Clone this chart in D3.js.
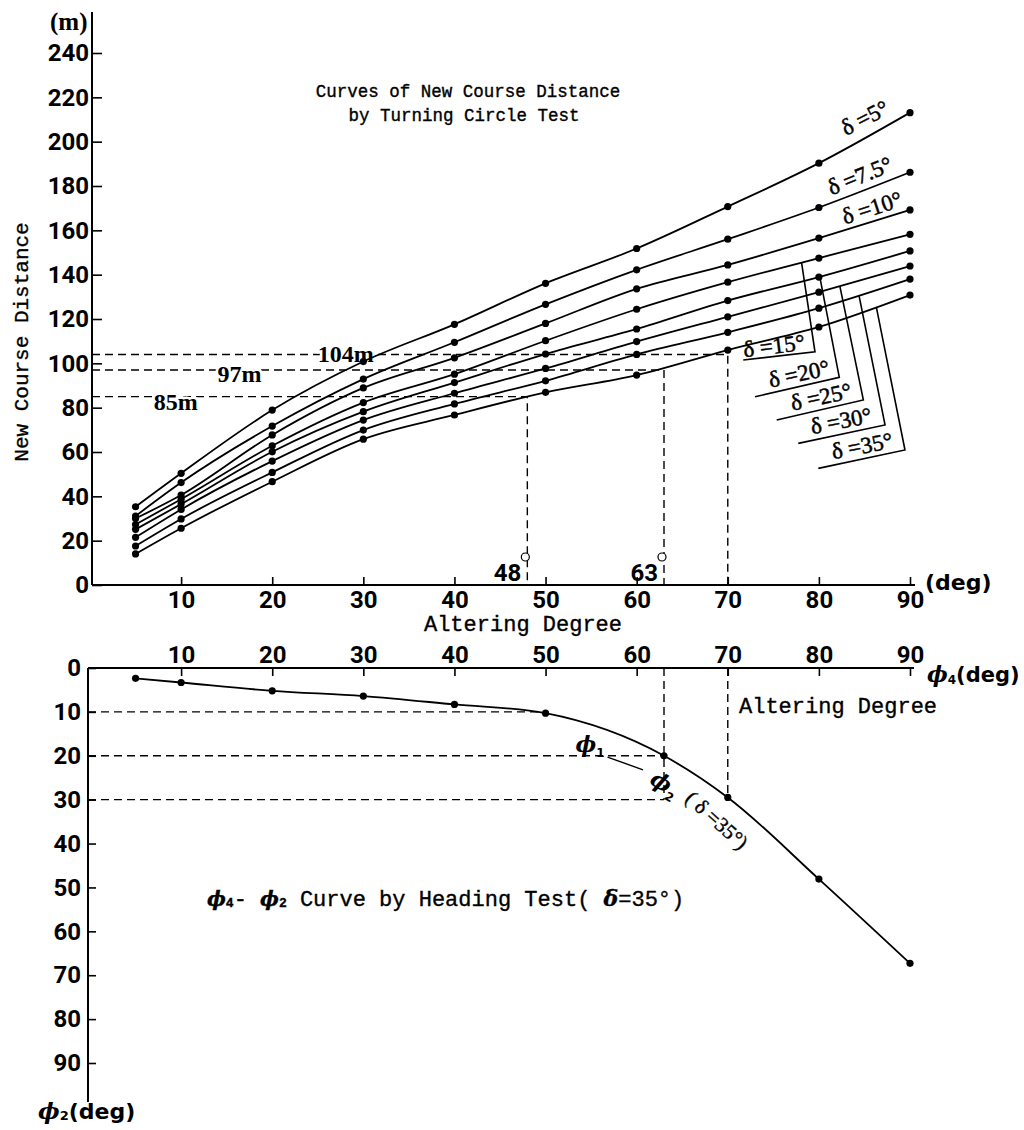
<!DOCTYPE html>
<html>
<head>
<meta charset="utf-8">
<script src="https://cdn.jsdelivr.net/npm/d3@7"></script>
<style>
body { margin: 0; background: #fff; }
svg text { fill: #000; }
.num { font-family: Roboto, "DejaVu Sans", sans-serif; font-weight: bold; font-size: 24px; }
.mono { font-family: "Liberation Mono", "DejaVu Sans Mono", monospace; stroke: #000; stroke-width: 0.35px; }
.ser { font-family: "Liberation Serif", "DejaVu Serif", serif; }
.grk { font-family: "DejaVu Serif", serif; font-weight: bold; font-style: italic; }
.bsans { font-family: "DejaVu Sans", sans-serif; font-weight: bold; }
</style>
</head>
<body>
<div id="chart"></div>
<script>
// altering degree where the turning circle points were read (deg)
var alterDeg = [5, 10, 20, 30, 40, 50, 60, 70, 80, 90];

// new course distance (m), one list per rudder angle
var d5   = [35.3, 50.4, 78.9, 100.8, 117.6, 136.1, 151.8, 170.7, 190.3, 213.1];
var d7_5 = [31.1, 46.2, 71.7, 92.9, 109.5, 126.6, 142.2, 156.0, 170.3, 186.2];
var d10  = [30.0, 40.6, 67.7, 88.9, 102.5, 118.0, 133.6, 144.4, 156.5, 169.2];
var d15  = [27.3, 38.7, 62.8, 82.3, 95.1, 110.2, 124.4, 136.6, 147.5, 158.2];
var d20  = [25.1, 36.5, 60.1, 78.2, 91.3, 104.2, 115.5, 128.3, 138.9, 150.7];
var d25  = [21.5, 34.1, 55.9, 74.4, 86.5, 97.7, 109.8, 121.0, 132.1, 143.9];
var d30  = [17.6, 29.8, 50.8, 69.9, 81.7, 92.1, 104.0, 114.0, 124.9, 138.0];
var d35  = [14.0, 25.6, 46.6, 65.8, 76.7, 86.9, 94.7, 106.0, 116.4, 130.8];
var rudder = ["δ =5°", "δ =7.5°", "δ =10°", "δ =15°", "δ =20°", "δ =25°", "δ =30°", "δ =35°"];

var distTicks = [0, 20, 40, 60, 80, 100, 120, 140, 160, 180, 200, 220, 240];
var degTicks = [10, 20, 30, 40, 50, 60, 70, 80, 90];

// heading test, delta = 35 deg
var phi4 = [5, 10, 20, 30, 40, 50, 63, 70, 80, 90];
var phi2 = [2.35, 3.3, 5.2, 6.4, 8.3, 10.3, 20.0, 29.5, 48.1, 67.3];
var phi2Ticks = [0, 10, 20, 30, 40, 50, 60, 70, 80, 90];

// read-off values (m -> deg)
var distRead = [104, 97, 85];
var degRead = [70, 63, 48];
var distReadText = ["104m", "97m", "85m"];

var series = [d5, d7_5, d10, d15, d20, d25, d30, d35];

var svg = d3.select("#chart").append("svg")
  .attr("width", 1024)
  .attr("height", 1130);

var x = d3.scaleLinear().domain([0, 90]).range([90, 910]);
var y = d3.scaleLinear().domain([0, 240]).range([585, 53]);
var y2 = d3.scaleLinear().domain([0, 90]).range([668, 1063]);

// ---------- upper chart ----------
var gx = svg.append("g").attr("transform", "translate(0,585)")
  .call(d3.axisBottom(x).tickValues(degTicks).tickSizeInner(-8).tickSizeOuter(0).tickPadding(6));
gx.select(".domain").remove();
gx.selectAll("line").attr("stroke-width", 1.6);
gx.selectAll("text").attr("class", "num");

var gy = svg.append("g").attr("transform", "translate(92,0)")
  .call(d3.axisLeft(y).tickValues(distTicks).tickSizeInner(-10).tickSizeOuter(0).tickPadding(3));
gy.select(".domain").remove();
gy.selectAll("line").attr("stroke-width", 1.6);
gy.selectAll("text").attr("class", "num");

svg.append("line").attr("x1", 92).attr("x2", 92).attr("y1", 12).attr("y2", y(0))
  .attr("stroke", "#000").attr("stroke-width", 2);
svg.append("line").attr("x1", 92).attr("x2", 915).attr("y1", y(0)).attr("y2", y(0))
  .attr("stroke", "#000").attr("stroke-width", 2);

svg.append("text").attr("class", "ser").attr("x", 50).attr("y", 30)
  .attr("font-size", 25).attr("font-weight", "bold").text("(m)");
svg.append("text").attr("class", "bsans").attr("x", 925).attr("y", 590)
  .attr("font-size", 22).text("(deg)");

svg.append("text").attr("class", "mono")
  .attr("transform", "translate(28,342) rotate(-90)")
  .attr("text-anchor", "middle").attr("font-size", 21).text("New Course Distance");

svg.append("text").attr("class", "mono").attr("x", 468).attr("y", 97)
  .attr("text-anchor", "middle").attr("font-size", 17.5).text("Curves of New Course Distance");
svg.append("text").attr("class", "mono").attr("x", 464).attr("y", 121)
  .attr("text-anchor", "middle").attr("font-size", 17.5).text("by Turning Circle Test");

svg.append("text").attr("class", "mono").attr("x", 523).attr("y", 631)
  .attr("text-anchor", "middle").attr("font-size", 22).text("Altering Degree");

// read-off dashed lines
var dash = "8,5";
distRead.forEach(function(m, i) {
  svg.append("path")
    .attr("d", "M" + 92 + "," + y(m) + "H" + x(degRead[i]) + "V" + y(0))
    .attr("fill", "none").attr("stroke", "#000").attr("stroke-width", 1.4)
    .attr("stroke-dasharray", dash);
});
var readPos = [[25, 104], [14, 95], [7, 82.5]];
distReadText.forEach(function(t, i) {
  svg.append("text").attr("class", "ser")
    .attr("x", x(readPos[i][0])).attr("y", y(readPos[i][1]))
    .attr("font-size", 24).attr("font-weight", "bold")
    .attr("dominant-baseline", "central")
    .attr("stroke", "#fff").attr("stroke-width", 5).attr("paint-order", "stroke")
    .text(t);
});
[48, 63].forEach(function(d) {
  svg.append("text").attr("class", "num").attr("font-size", 22)
    .attr("x", x(d) - 6).attr("y", 581).attr("text-anchor", "end").text(d);
  svg.append("circle").attr("cx", x(d) - 2).attr("cy", 557).attr("r", 4)
    .attr("fill", "#fff").attr("stroke", "#000").attr("stroke-width", 1.2);
});

var line = d3.line()
  .x(function(d) { return x(d[0]); })
  .y(function(d) { return y(d[1]); })
  .curve(d3.curveMonotoneX);

series.forEach(function(s) {
  var pts = alterDeg.map(function(a, i) { return [a, s[i]]; });
  svg.append("path").attr("d", line(pts))
    .attr("fill", "none").attr("stroke", "#000").attr("stroke-width", 1.8);
  svg.append("g").selectAll("circle").data(pts).enter().append("circle")
    .attr("cx", function(d) { return x(d[0]); })
    .attr("cy", function(d) { return y(d[1]); })
    .attr("r", 3.6).attr("fill", "#000");
});

// curve labels: [deg, m] of label centre, rotation
var labelPos = [
  [85.06, 210.7, -27], [84.5, 184.5, -22], [85.83, 170.1, -18],
  [75.07, 107.8, -7], [77.82, 95.2, -12], [80.24, 84.8, -12],
  [82.43, 74.0, -11], [84.74, 62.7, -11]
];
rudder.forEach(function(t, i) {
  svg.append("text").attr("class", "ser")
    .attr("transform", "translate(" + x(labelPos[i][0]) + "," + y(labelPos[i][1]) + ") rotate(" + labelPos[i][2] + ")")
    .attr("text-anchor", "middle").attr("dominant-baseline", "central")
    .attr("stroke", "#000").attr("stroke-width", 0.5)
    .attr("font-size", 23).text(t);
});

// leaders for the lower five curves: attach deg, corner [deg,m], end [deg,m]
var leaders = [
  [78.1, [79.57, 105.2], [71.7, 101.5]],
  [80.1, [82.24, 93.7], [72.99, 84.9]],
  [82.3, [84.88, 83.5], [75.37, 74.4]],
  [84.4, [87.26, 72.2], [77.74, 63.9]],
  [86.3, [89.45, 60.9], [79.94, 52.6]]
];
var interp = d3.scaleLinear().domain(alterDeg);
leaders.forEach(function(l, i) {
  var s = series[i + 3];
  var ym = interp.range(s)(l[0]);
  svg.append("path")
    .attr("d", "M" + x(l[0]) + "," + y(ym) + "L" + x(l[1][0]) + "," + y(l[1][1]) + "L" + x(l[2][0]) + "," + y(l[2][1]))
    .attr("fill", "none").attr("stroke", "#000").attr("stroke-width", 1.6);
});

// ---------- lower chart ----------
var bx = svg.append("g").attr("transform", "translate(0,668)")
  .call(d3.axisTop(x).tickValues(degTicks).tickSizeInner(-8).tickSizeOuter(0).tickPadding(5));
bx.select(".domain").remove();
bx.selectAll("line").attr("stroke-width", 1.6);
bx.selectAll("text").attr("class", "num");

var by = svg.append("g").attr("transform", "translate(88,0)")
  .call(d3.axisLeft(y2).tickValues(phi2Ticks).tickSizeInner(-8).tickSizeOuter(0).tickPadding(7));
by.select(".domain").remove();
by.selectAll("line").attr("stroke-width", 1.6);
by.selectAll("text").attr("class", "num");

svg.append("line").attr("x1", 88).attr("x2", 914).attr("y1", y2(0)).attr("y2", y2(0))
  .attr("stroke", "#000").attr("stroke-width", 2);
svg.append("line").attr("x1", 88).attr("x2", 88).attr("y1", y2(0)).attr("y2", 1102)
  .attr("stroke", "#000").attr("stroke-width", 2);

// dashed helpers
var helpers = [
  [[0, 10], [50, 10]],
  [[0, 20], [63, 20]],
  [[0, 30], [63, 30]],
  [[63, 0], [63, 30]],
  [[70, 0], [70, 29.5]]
];
helpers.forEach(function(h) {
  svg.append("line")
    .attr("x1", h[0][0] === 0 ? 88 : x(h[0][0])).attr("y1", y2(h[0][1]))
    .attr("x2", x(h[1][0])).attr("y2", y2(h[1][1]))
    .attr("stroke", "#000").attr("stroke-width", 1.4).attr("stroke-dasharray", dash);
});

var line2 = d3.line()
  .x(function(d) { return x(d[0]); })
  .y(function(d) { return y2(d[1]); })
  .curve(d3.curveMonotoneX);
var hpts = phi4.map(function(a, i) { return [a, phi2[i]]; });
svg.append("path").attr("d", line2(hpts))
  .attr("fill", "none").attr("stroke", "#000").attr("stroke-width", 1.8);
svg.append("g").selectAll("circle").data(hpts).enter().append("circle")
  .attr("cx", function(d) { return x(d[0]); })
  .attr("cy", function(d) { return y2(d[1]); })
  .attr("r", 3.6).attr("fill", "#000");

// axis names
var t1 = svg.append("text").attr("x", 927).attr("y", 682);
t1.append("tspan").attr("class", "grk").attr("font-size", 22).text("ϕ");
t1.append("tspan").attr("class", "bsans").attr("font-size", 12).attr("dy", 2).text("4");
t1.append("tspan").attr("class", "bsans").attr("font-size", 21).attr("dy", -2).text("(deg)");

svg.append("text").attr("class", "mono").attr("x", 739).attr("y", 713)
  .attr("font-size", 22).text("Altering Degree");

var t2 = svg.append("text").attr("x", 38).attr("y", 1119);
t2.append("tspan").attr("class", "grk").attr("font-size", 23).text("ϕ");
t2.append("tspan").attr("class", "bsans").attr("font-size", 13).attr("dy", 1).text("2");
t2.append("tspan").attr("class", "bsans").attr("font-size", 22).attr("dy", -1).text("(deg)");

var t3 = svg.append("text").attr("class", "mono").attr("x", 207).attr("y", 906).attr("font-size", 22);
t3.append("tspan").attr("class", "grk").attr("font-size", 20).text("ϕ");
t3.append("tspan").attr("font-size", 13).attr("dy", 1).attr("font-weight", "bold").text("4");
t3.append("tspan").attr("dy", -1).text("- ");
t3.append("tspan").attr("class", "grk").attr("font-size", 20).text("ϕ");
t3.append("tspan").attr("font-size", 13).attr("dy", 1).attr("font-weight", "bold").text("2");
t3.append("tspan").attr("dy", -1).text(" Curve by Heading Test( ");
t3.append("tspan").attr("class", "grk").attr("font-size", 22).text("δ");
t3.append("tspan").text("=35°)");

// curve annotation near 63 deg
var a1 = svg.append("text").attr("x", x(53.3)).attr("y", y2(19.2));
a1.append("tspan").attr("class", "grk").attr("font-size", 22).text("ϕ");
a1.append("tspan").attr("class", "bsans").attr("font-size", 12).attr("dy", 5).text("1");
svg.append("line").attr("x1", x(56.8)).attr("y1", y2(20.3)).attr("x2", x(60.7)).attr("y2", y2(23.2))
  .attr("stroke", "#000").attr("stroke-width", 1.4);
var a2 = svg.append("text")
  .attr("transform", "translate(" + x(61.3) + "," + y2(26.2) + ") rotate(30)");
a2.append("tspan").attr("class", "grk").attr("font-size", 22).text("ϕ");
a2.append("tspan").attr("class", "bsans").attr("font-size", 12).attr("dy", 6).text("2");
svg.append("text").attr("class", "ser")
  .attr("transform", "translate(" + x(68.8) + "," + y2(34.7) + ") rotate(42)")
  .attr("text-anchor", "middle").attr("dominant-baseline", "central")
  .attr("stroke", "#000").attr("stroke-width", 0.4)
  .attr("font-size", 21).text("( δ =35°)");
</script>
</body>
</html>
